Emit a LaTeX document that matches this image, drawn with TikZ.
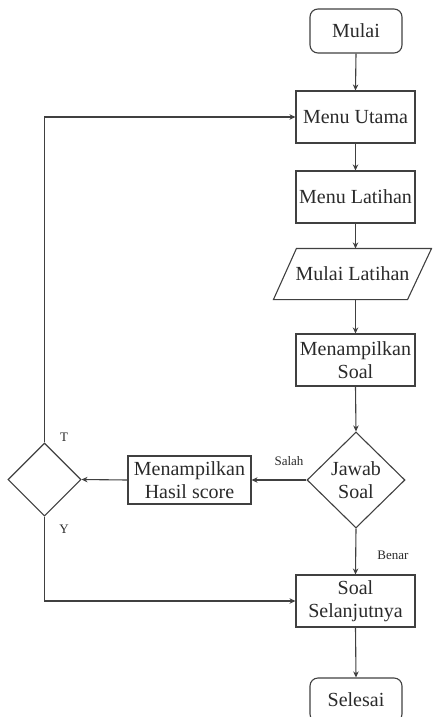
\documentclass[tikz,border=0pt]{standalone}
\usepackage{fontspec}
\setmainfont{Liberation Serif}
\usetikzlibrary{shapes.geometric,arrows.meta,calc}
\definecolor{ln}{HTML}{404040}
\definecolor{tx}{HTML}{2A2A2A}
\begin{document}
\begin{tikzpicture}[x=1pt,y=1pt,
  base/.style={draw=ln,line width=1.1pt,text=tx,font=\fontsize{20}{23}\selectfont,align=center,inner sep=0pt},
  procbox/.style={base,rectangle,minimum width=119pt,minimum height=52pt},
  termbox/.style={base,rectangle,rounded corners=8pt,minimum width=92pt,minimum height=44pt},
  decbox/.style={base,diamond,aspect=1},
  iotext/.style={base,draw=none,rectangle,minimum width=157pt,minimum height=50pt},
  ioedge/.style={draw=ln,line width=1.1pt,line join=miter},
  conn/.style={draw=ln,line width=1.1pt,-{Stealth[length=6pt,width=5.5pt]}},
  lbl/.style={text=tx,font=\fontsize{13}{15}\selectfont,inner sep=0pt}]
\useasboundingbox (0,0) rectangle (432,-717);
\clip (0,0) rectangle (432,-717);
\node[termbox] (mulai) at (356,-31) {Mulai};
\node[procbox] (utama) at (355.5,-117) {Menu Utama};
\node[procbox] (latihan) at (355.5,-197) {Menu Latihan};
\node[iotext] (mlat) at (352.5,-274) {Mulai Latihan};
\draw[ioedge] (mlat.south west) -- ($(mlat.north west)+(23,0)$) -- (mlat.north east) -- ($(mlat.south east)-(24,0)$) -- cycle;
\node[procbox] (soal) at (355.5,-360) {Menampilkan\\Soal};
\node[decbox,minimum width=98pt,minimum height=96pt,aspect=1.02] (jawab) at (356,-480) {Jawab\\Soal};
\node[procbox,minimum width=123pt,minimum height=48pt] (hasil) at (189.5,-480) {Menampilkan\\Hasil score};
\node[decbox,minimum width=73pt,minimum height=73pt] (cek) at (44.5,-479.5) {};
\node[procbox] (next) at (355.5,-601) {Soal\\Selanjutnya};
\node[termbox] (selesai) at (356,-700) {Selesai};
\draw[conn] (mulai.south) -- (utama.north);
\draw[conn] (utama.south) -- (latihan.north);
\draw[conn] (latihan.south) -- (latihan.south |- mlat.north);
\draw[conn] (latihan.south |- mlat.south) -- (soal.north);
\draw[conn] (soal.south) -- (jawab.north);
\draw[conn] (jawab.west) -- (hasil.east);
\draw[conn] (hasil.west) -- (cek.east);
\draw[conn] (jawab.south) -- (next.north);
\draw[conn] (cek.north) |- (utama.west);
\draw[conn] (cek.south) |- (next.west);
\draw[conn] (next.south) -- (selesai.north);
\node[lbl] (salah) at (289,-461) {Salah};
\node[lbl] (benar) at (393,-555) {Benar};
\node[lbl] (tlab) at (64,-437) {T};
\node[lbl] (ylab) at (64,-529) {Y};
\end{tikzpicture}
\end{document}
